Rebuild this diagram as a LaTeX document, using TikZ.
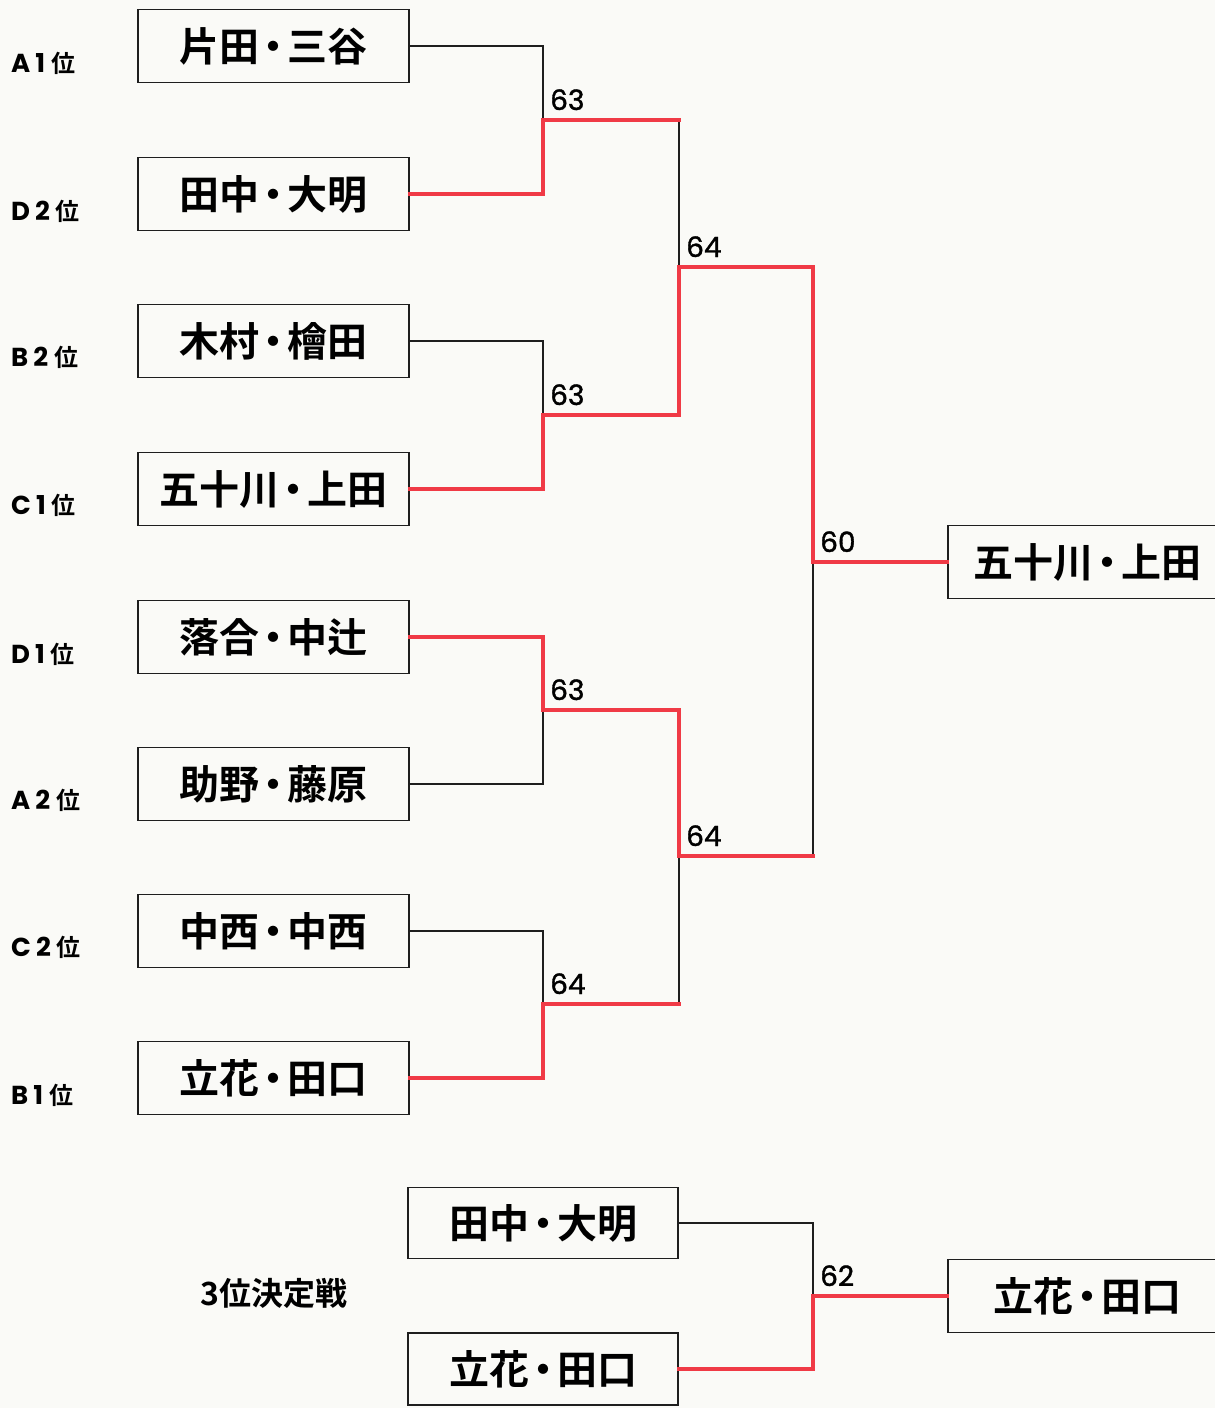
\documentclass[tikz,border=0pt]{standalone}
\usepackage{fontspec}
\setmainfont{Noto Sans CJK JP}[BoldFont={Noto Sans CJK JP Bold}]
\newfontfamily\lat{Poppins}
\newfontfamily\latm{Poppins}[FakeBold=1.3]
\definecolor{bg}{RGB}{250,250,247}
\definecolor{winred}{RGB}{240,58,70}
\definecolor{ink}{RGB}{30,30,30}
\newcommand{\dt}{\hspace{-6pt}・\hspace{-6pt}}
\newcommand{\rk}[2]{{\lat\bfseries\fontsize{26}{28}\selectfont #1\hspace{5pt}#2}\hspace{6pt}位}
\begin{document}
\begin{tikzpicture}[x=1pt,y=-1pt,
  team/.style={draw=ink, line width=1.6pt, minimum width=271pt, minimum height=73pt, inner sep=0pt, font=\fontsize{40}{42}\selectfont\bfseries},
  rank/.style={anchor=west, inner sep=0pt, font=\fontsize{24}{26}\selectfont\bfseries},
  score/.style={anchor=base west, inner sep=0pt, font=\latm\fontsize{28}{30}\selectfont},
  lose/.style={draw=ink, line width=1.6pt},
  win/.style={draw=winred, line width=4pt, line cap=rect}
]
\fill[bg] (0,0) rectangle (1215,1408);
\useasboundingbox (0,0) rectangle (1215,1408);

% first-round boxes
\node[team] (b1) at (273.5,46)   {片田\dt 三谷};
\node[team] (b2) at (273.5,194)  {田中\dt 大明};
\node[team] (b3) at (273.5,341)  {木村\dt 檜田};
\node[team] (b4) at (273.5,489)  {五十川\dt 上田};
\node[team] (b5) at (273.5,637)  {落合\dt 中辻};
\node[team] (b6) at (273.5,784)  {助野\dt 藤原};
\node[team] (b7) at (273.5,931)  {中西\dt 中西};
\node[team] (b8) at (273.5,1078) {立花\dt 田口};

% rank labels
\node[rank] (r1) at (11,63)   {\rk{A}{1}};
\node[rank] (r2) at (11,211)  {\rk{D}{2}};
\node[rank] (r3) at (11,357)  {\rk{B}{2}};
\node[rank] (r4) at (11,505)  {\rk{C}{1}};
\node[rank] (r5) at (11,654)  {\rk{D}{1}};
\node[rank] (r6) at (11,800)  {\rk{A}{2}};
\node[rank] (r7) at (11,947)  {\rk{C}{2}};
\node[rank] (r8) at (11,1095) {\rk{B}{1}};

% champion
\node[team, minimum width=280pt, anchor=west] (fin) at (947,562) {五十川\dt 上田};

% third place
\node[team, minimum width=270pt, minimum height=71pt] (c1) at (543,1223) {田中\dt 大明};
\node[team, minimum width=270pt, minimum height=72pt] (c2) at (543,1369) {立花\dt 田口};
\node[team, minimum width=280pt, anchor=west] (bfin) at (947,1296) {立花\dt 田口};
\node[inner sep=0pt, font=\fontsize{32}{34}\selectfont\bfseries] (third) at (274,1293) {3位決定戦};

% joints
\coordinate (j1) at (543,120);
\coordinate (j2) at (543,415);
\coordinate (j3) at (543,710);
\coordinate (j4) at (543,1004);
\coordinate (k1) at (679,267);
\coordinate (k2) at (679,856);
\coordinate (m1) at (813,562);
\coordinate (j5) at (813,1296);

% losing lines
\draw[lose] (b1.east) -| (j1);
\draw[lose] (b3.east) -| (j2);
\draw[lose] (b6.east) -| (j3);
\draw[lose] (b7.east) -| (j4);
\draw[lose] (j1) -| (k1);
\draw[lose] (j4) -| (k2);
\draw[lose] (k2) -| (m1);
\draw[lose] (c1.east) -| (j5);

% winning lines
\draw[win] (b2.east) -| (j1) -- (j1 -| k1);
\draw[win] (b4.east) -| (j2) -| (k1) -| (m1) -- (fin.west);
\draw[win] (b5.east) -| (j3) -| (k2) -- (k2 -| m1);
\draw[win] (b8.east) -| (j4) -- (j4 -| k2);
\draw[win] (c2.east) -| (j5) -- (bfin.west);

% scores
\node[score] (s1) at ([shift={(7,-10)}]j1) {63};
\node[score] (s2) at ([shift={(7,-10)}]j2) {63};
\node[score] (s3) at ([shift={(7,-10)}]j3) {63};
\node[score] (s4) at ([shift={(7,-10)}]j4) {64};
\node[score] (s5) at ([shift={(7,-10)}]k1) {64};
\node[score] (s6) at ([shift={(7,-10)}]k2) {64};
\node[score] (s7) at ([shift={(7,-10)}]m1) {60};
\node[score] (s8) at ([shift={(7,-10)}]j5) {62};
\end{tikzpicture}
\end{document}
